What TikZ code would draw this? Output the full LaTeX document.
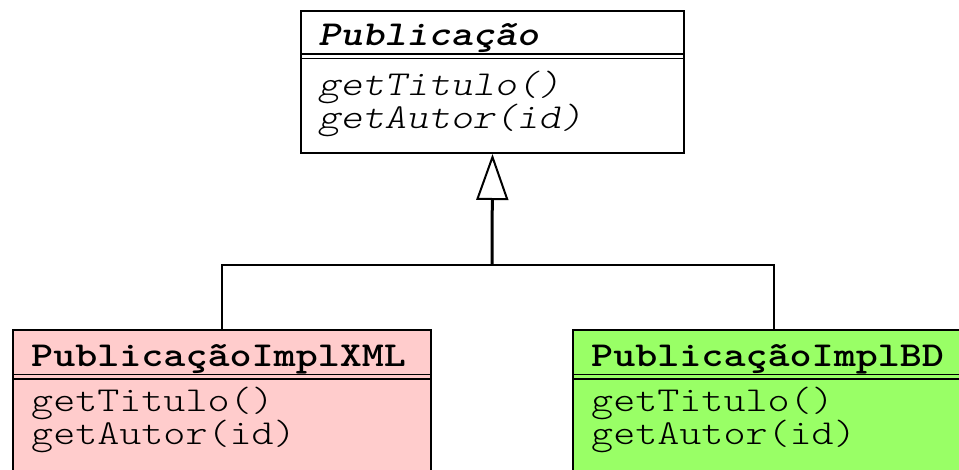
\documentclass[tikz,border=0pt]{standalone}
\usepackage{fontspec}
\newfontfamily\umlfont{lmmonolt10-regular.otf}[BoldFont=lmmonolt10-bold.otf, ItalicFont=lmmonolt10-oblique.otf, BoldItalicFont=lmmonolt10-boldoblique.otf, FakeStretch=1.2]
\usetikzlibrary{arrows.meta}
\definecolor{pinkfill}{HTML}{FFCCCC}
\definecolor{greenfill}{HTML}{99FF66}
\begin{document}
\begin{tikzpicture}[x=1pt,y=-1pt,
  classbox/.style={draw=black,line width=2pt,rectangle,inner sep=0pt,anchor=north west},
  sepline/.style={line width=1.5pt},
  lbl/.style={anchor=base west,inner sep=0pt,font=\fontsize{35}{40}\selectfont\umlfont},
  conn/.style={line width=2pt},
]
\useasboundingbox (0,0) rectangle (959,469);
\clip (0,0) rectangle (959,469);
% boxes
\node[classbox, fill=white, minimum width=383pt, minimum height=142pt] (top) at (300,10) {};
\node[classbox, fill=pinkfill, minimum width=418pt, minimum height=170pt] (xml) at (12,329) {};
\node[classbox, fill=greenfill, minimum width=402pt, minimum height=170pt] (bd) at (572,329) {};
% separators
\draw[sepline] (300,54) -- (683,54);
\draw[sepline] (300,58.5) -- (683,58.5);
\draw[sepline] (12,374.5) -- (430,374.5);
\draw[sepline] (12,379) -- (430,379);
\draw[sepline] (572,374.5) -- (974,374.5);
\draw[sepline] (572,379) -- (974,379);
% labels
\node[lbl, font=\fontsize{35}{40}\selectfont\umlfont\bfseries\itshape] (topname) at (318,45) {Publicação};
\node[lbl, font=\fontsize{35}{40}\selectfont\umlfont\itshape] (topm1) at (318,95) {getTitulo()};
\node[lbl, font=\fontsize{35}{40}\selectfont\umlfont\itshape] (topm2) at (318,128) {getAutor(id)};
\node[lbl, font=\fontsize{35}{40}\selectfont\umlfont\bfseries] (xmlname) at (31,366) {PublicaçãoImplXML};
\node[lbl] (xmlm1) at (31,411) {getTitulo()};
\node[lbl] (xmlm2) at (31,444) {getAutor(id)};
\node[lbl, font=\fontsize{35}{40}\selectfont\umlfont\bfseries] (bdname) at (591,366) {PublicaçãoImplBD};
\node[lbl] (bdm1) at (591,411) {getTitulo()};
\node[lbl] (bdm2) at (591,444) {getAutor(id)};
% connectors
\coordinate (j) at (492,264.5);
\draw[conn] (xml.north) |- (j) -| (bd.north);
\draw[line width=3pt, -{Triangle[open,width=32pt,length=46pt,line width=2pt]}] (j) -- (top.south);
\end{tikzpicture}
\end{document}
